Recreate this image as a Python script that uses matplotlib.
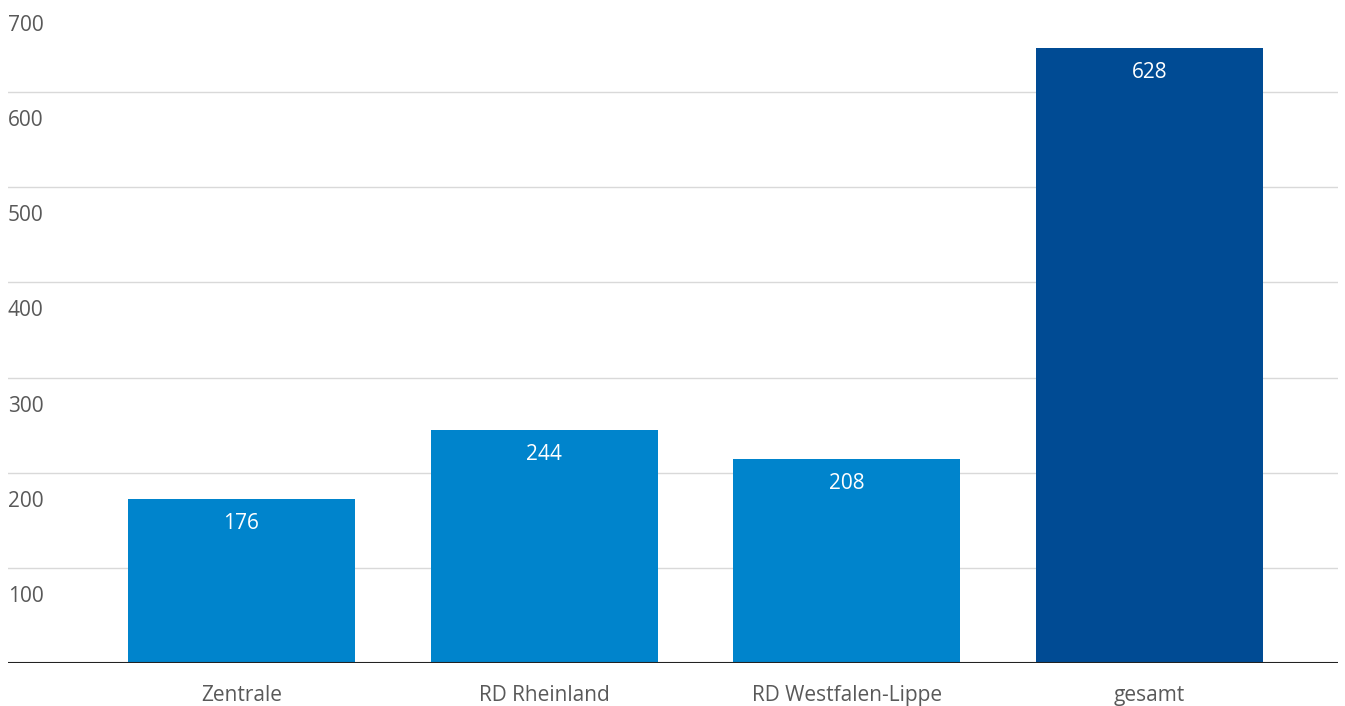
import matplotlib.pyplot as plt

# Data
categories = ["Zentrale", "RD Rheinland", "RD Westfalen-Lippe", "gesamt"]
bar_heights = [172.5, 245, 214.5, 646]   # heights as drawn
value_labels = ["176", "244", "208", "628"]
bar_colors = ["#0084cc", "#0084cc", "#0084cc", "#004b94"]
y_ticks = [100, 200, 300, 400, 500, 600, 700]

plt.rcParams["font.family"] = ["Open Sans", "DejaVu Sans"]

W, H = 1345, 706
fig = plt.figure(figsize=(W / 100, H / 100), dpi=100)
ax_left, ax_right = 8, 1338
ax_bottom, ax_top = 663, -3
ax = fig.add_axes([ax_left / W, (H - ax_bottom) / H,
                   (ax_right - ax_left) / W, (ax_bottom - ax_top) / H])

x = list(range(len(categories)))
ax.bar(x, bar_heights, width=0.75, color=bar_colors, zorder=2)

ax.set_xlim(-0.771, 3.623)
ax.set_ylim(0, 700)

for t in y_ticks:
    ax.axhline(t, color="#d9d9d9", lw=1, zorder=1)
ax.axhline(0, color="#222222", lw=1.5, zorder=3)

# y labels sit below their grid line
for t in y_ticks:
    ax.annotate(str(t), xy=(0, t), xycoords=("axes fraction", "data"),
                xytext=(0, -13), textcoords="offset points",
                ha="left", va="top", fontsize=15, color="#595959")

for xi, h, lab in zip(x, bar_heights, value_labels):
    ax.annotate(lab, xy=(xi, h), xytext=(0, -10), textcoords="offset points",
                ha="center", va="top", fontsize=15, color="white", zorder=4)

for xi, cat in zip(x, categories):
    ax.annotate(cat, xy=(xi, 0), xytext=(0, -15.5), textcoords="offset points",
                ha="center", va="top", fontsize=15, color="#595959")

ax.set_xticks([])
ax.set_yticks([])
for s in ax.spines.values():
    s.set_visible(False)
ax.patch.set_alpha(0)

fig.savefig("out.png", dpi=100)
